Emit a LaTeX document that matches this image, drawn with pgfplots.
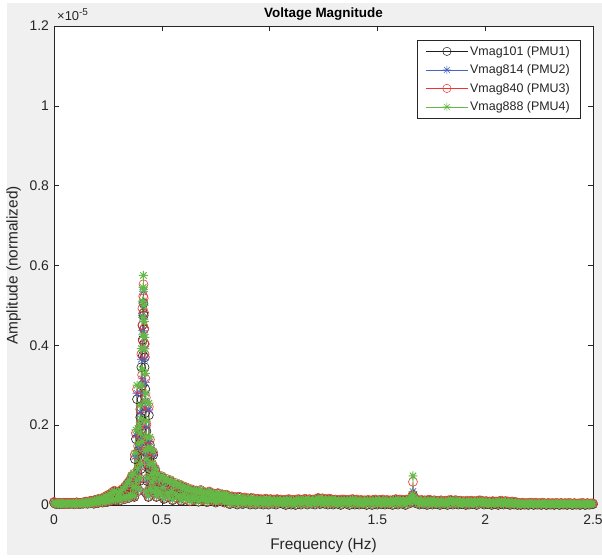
\documentclass[border=0pt]{standalone}
\usepackage{fontspec}
\setmainfont{Liberation Sans}
\usepackage{pgfplots}
\pgfplotsset{compat=1.18}
\usepackage{pgfplotstable}

\definecolor{axgray}{RGB}{38,38,38}
\definecolor{figbg}{RGB}{240,240,240}
\definecolor{s1}{RGB}{30,30,30}
\definecolor{s2}{RGB}{70,100,200}
\definecolor{s3}{RGB}{240,50,50}
\definecolor{s4}{RGB}{100,185,70}

% eight-ray asterisk (plus and cross combined)
\pgfdeclareplotmark{mstar}{%
  \pgfpathmoveto{\pgfqpoint{-\pgfplotmarksize}{0pt}}%
  \pgfpathlineto{\pgfqpoint{\pgfplotmarksize}{0pt}}%
  \pgfpathmoveto{\pgfqpoint{0pt}{-\pgfplotmarksize}}%
  \pgfpathlineto{\pgfqpoint{0pt}{\pgfplotmarksize}}%
  \pgfpathmoveto{\pgfqpoint{-0.7071\pgfplotmarksize}{-0.7071\pgfplotmarksize}}%
  \pgfpathlineto{\pgfqpoint{0.7071\pgfplotmarksize}{0.7071\pgfplotmarksize}}%
  \pgfpathmoveto{\pgfqpoint{-0.7071\pgfplotmarksize}{0.7071\pgfplotmarksize}}%
  \pgfpathlineto{\pgfqpoint{0.7071\pgfplotmarksize}{-0.7071\pgfplotmarksize}}%
  \pgfusepathqstroke}

% amplitude spectra, in units of 1e-8: f (Hz), PMU1, PMU2, PMU3, PMU4
\pgfplotstableread{
f a b c d
0.000 6 7 8 6
0.005 3 3 4 3
0.010 4 5 5 5
0.015 2 2 3 2
0.020 4 4 5 4
0.025 5 4 6 5
0.030 2 2 3 2
0.035 4 4 4 4
0.040 3 3 4 3
0.045 5 5 6 5
0.050 2 2 2 2
0.055 4 4 5 4
0.060 5 5 6 5
0.065 3 3 3 3
0.070 2 2 3 2
0.075 5 5 6 5
0.080 4 4 4 4
0.085 3 3 4 3
0.090 5 5 6 5
0.095 2 2 2 2
0.100 4 4 5 4
0.105 6 6 7 6
0.110 3 3 3 3
0.115 5 5 6 5
0.120 2 2 3 2
0.125 4 4 5 4
0.130 6 5 6 6
0.135 3 3 4 3
0.140 7 6 7 7
0.145 4 4 4 4
0.150 8 8 9 8
0.155 3 3 4 3
0.160 7 7 8 8
0.165 4 4 5 4
0.170 10 10 11 10
0.175 5 5 6 5
0.180 9 9 10 10
0.185 3 3 4 4
0.190 12 12 13 12
0.195 6 6 7 6
0.200 13 13 14 13
0.205 5 5 6 6
0.210 15 15 16 16
0.215 8 8 9 8
0.220 14 14 16 15
0.225 6 6 7 7
0.230 18 18 19 18
0.235 9 9 10 10
0.240 20 20 22 21
0.245 7 7 8 8
0.250 23 23 25 24
0.255 11 11 12 12
0.260 26 26 28 27
0.265 10 10 11 11
0.270 30 30 32 31
0.275 14 14 15 15
0.280 34 34 36 35
0.285 12 12 13 13
0.290 31 31 33 32
0.295 16 16 17 17
0.300 30 30 32 31
0.305 11 11 12 12
0.310 35 35 37 36
0.315 18 18 19 19
0.320 38 39 41 40
0.325 14 14 15 15
0.330 44 45 47 46
0.335 20 20 22 21
0.340 50 52 54 55
0.345 17 17 18 18
0.350 57 59 61 62
0.355 24 25 26 26
0.360 66 69 72 74
0.365 22 23 24 25
0.3675 40 42 44 46
0.3700 70 74 78 80
0.3725 20 21 22 23
0.3750 115 121 126 130
0.3775 40 42 44 46
0.3800 165 175 180 188
0.3825 55 58 60 62
0.3850 265 280 290 300
0.3875 80 85 88 91
0.3900 135 143 148 153
0.3925 35 37 38 40
0.3950 175 185 192 199
0.3975 60 63 66 68
0.40000 220 232 240 250
0.40125 158 167 173 180
0.40250 90 95 98 102
0.40375 189 200 206 215
0.40500 345 365 378 392
0.40625 264 279 288 300
0.40750 140 148 153 159
0.40875 299 316 326 340
0.41000 450 475 493 511
0.41125 414 437 451 470
0.41250 375 396 411 426
0.41375 480 507 523 545
0.41500 505 535 553 575
0.41625 475 502 518 540
0.41750 440 465 482 500
0.41875 405 428 442 460
0.42000 345 365 378 392
0.42125 370 391 403 420
0.42250 230 243 252 261
0.42375 290 307 317 330
0.42500 120 127 131 136
0.42625 246 260 269 280
0.42750 30 32 33 34
0.42875 185 195 202 210
0.43000 150 158 164 170
0.43125 101 107 110 115
0.43250 60 63 66 68
0.4350 125 132 137 142
0.4375 20 21 22 23
0.4400 225 238 246 255
0.4425 90 95 98 102
0.4450 150 158 164 170
0.4475 35 37 38 40
0.4500 125 132 137 142
0.4525 70 72 75 77
0.4550 50 53 55 57
0.4575 95 98 101 104
0.4600 125 128 132 135
0.4625 60 62 64 66
0.4650 30 32 33 34
0.4675 75 77 79 81
0.4700 85 88 90 92
0.4725 40 41 42 43
0.4750 20 21 22 23
0.480 70 72 75 76
0.485 32 33 34 35
0.490 58 60 62 63
0.495 25 26 27 28
0.500 68 70 72 73
0.505 40 41 43 44
0.510 15 16 17 17
0.515 55 57 59 60
0.520 62 64 66 67
0.525 28 29 30 31
0.530 20 21 22 22
0.535 52 54 56 57
0.540 58 60 62 63
0.545 30 31 32 33
0.550 12 13 14 14
0.555 45 47 48 49
0.560 52 54 56 57
0.565 26 27 28 28
0.570 18 19 19 20
0.575 44 45 47 48
0.580 48 50 52 53
0.585 22 23 24 24
0.590 10 11 12 12
0.595 38 39 41 41
0.600 44 45 47 48
0.605 25 26 27 27
0.610 14 15 15 16
0.615 36 37 39 39
0.620 40 41 43 43
0.625 20 21 22 22
0.630 9 10 10 10
0.635 33 34 35 36
0.640 36 37 39 39
0.645 18 19 20 20
0.650 13 13 14 14
0.655 30 31 32 33
0.660 34 35 36 37
0.665 16 17 17 18
0.670 8 9 9 9
0.675 29 30 31 31
0.680 35 36 38 38
0.685 17 18 18 19
0.690 12 12 13 13
0.695 27 28 29 29
0.700 30 31 32 33
0.705 14 15 15 16
0.710 7 8 8 8
0.715 26 27 28 28
0.720 32 33 34 34
0.725 15 16 16 17
0.730 11 11 12 12
0.735 24 25 26 26
0.740 27 28 29 29
0.745 12 13 13 13
0.750 6 7 7 7
0.755 23 24 25 25
0.760 28 29 30 30
0.765 13 13 14 14
0.770 10 10 11 11
0.775 22 23 23 24
0.780 25 26 27 27
0.785 11 12 12 12
0.790 6 6 7 7
0.795 21 22 22 23
0.800 24 25 26 26
0.805 21 22 23 22
0.810 9 10 11 10
0.815 2 3 4 3
0.820 17 18 19 18
0.825 20 21 22 21
0.830 8 9 10 9
0.835 5 6 7 6
0.840 18 19 20 19
0.845 12 13 14 13
0.850 1 2 3 2
0.855 19 20 21 20
0.860 10 11 12 11
0.865 18 19 20 19
0.870 8 9 10 9
0.875 2 3 4 3
0.880 14 15 16 15
0.885 17 18 19 18
0.890 7 8 9 8
0.895 4 5 6 5
0.900 15 16 17 16
0.905 10 11 12 11
0.910 1 2 3 2
0.915 16 17 18 17
0.920 9 10 11 10
0.925 15 16 17 16
0.930 6 7 8 7
0.935 1 2 3 2
0.940 12 13 14 13
0.945 14 15 16 15
0.950 5 6 7 6
0.955 3 4 5 4
0.960 13 14 15 14
0.965 9 10 11 10
0.970 1 2 3 2
0.975 13 14 15 14
0.980 7 8 9 8
0.985 14 15 16 15
0.990 6 7 8 7
0.995 1 2 3 2
1.000 11 12 13 12
1.005 13 14 15 14
1.010 5 6 7 6
1.015 3 4 5 4
1.020 12 13 14 13
1.025 8 9 10 9
1.030 1 2 3 2
1.035 13 14 15 14
1.040 7 8 9 8
1.045 10 11 12 11
1.050 12 13 14 13
1.055 5 6 7 6
1.060 3 4 5 4
1.065 11 12 13 12
1.070 7 8 9 8
1.075 0 1 2 1
1.080 12 13 14 13
1.085 6 7 8 7
1.090 13 14 15 14
1.095 5 6 7 6
1.100 1 2 3 2
1.105 3 4 5 4
1.110 11 12 13 12
1.115 7 8 9 8
1.120 0 1 2 1
1.125 12 13 14 13
1.130 6 7 8 7
1.135 13 14 15 14
1.140 5 6 7 6
1.145 1 2 3 2
1.150 10 11 12 11
1.155 12 13 14 13
1.160 5 6 7 6
1.165 14 15 16 15
1.170 6 7 8 7
1.175 1 2 3 2
1.180 11 12 13 12
1.185 13 14 15 14
1.190 5 6 7 6
1.195 3 4 5 4
1.200 12 13 14 13
1.205 8 9 10 9
1.210 1 2 3 2
1.215 13 14 15 14
1.220 7 8 9 8
1.225 16 17 18 17
1.230 7 8 9 8
1.235 2 3 4 3
1.240 13 14 15 14
1.245 15 16 17 16
1.250 6 7 8 7
1.255 3 4 5 4
1.260 13 14 15 14
1.265 9 10 11 10
1.270 1 2 3 2
1.275 14 15 16 15
1.280 8 9 10 9
1.285 13 14 15 14
1.290 5 6 7 6
1.295 1 2 3 2
1.300 10 11 12 11
1.305 12 13 14 13
1.310 5 6 7 6
1.315 3 4 5 4
1.320 11 12 13 12
1.325 7 8 9 8
1.330 0 1 2 1
1.335 12 13 14 13
1.340 6 7 8 7
1.345 12 13 14 13
1.350 5 6 7 6
1.355 3 4 5 4
1.360 11 12 13 12
1.365 7 8 9 8
1.370 0 1 2 1
1.375 12 13 14 13
1.380 6 7 8 7
1.385 13 14 15 14
1.390 5 6 7 6
1.395 1 2 3 2
1.400 10 11 12 11
1.405 12 13 14 13
1.410 5 6 7 6
1.415 1 2 3 2
1.420 9 10 11 10
1.425 11 12 13 12
1.430 4 5 6 5
1.435 2 3 4 3
1.440 10 11 12 11
1.445 7 8 9 8
1.450 0 1 2 1
1.455 11 12 13 12
1.460 6 7 8 7
1.465 10 11 12 11
1.470 7 8 9 8
1.475 0 1 2 1
1.480 11 12 13 12
1.485 6 7 8 7
1.490 12 13 14 13
1.495 5 6 7 6
1.500 1 2 3 2
1.505 9 10 11 10
1.510 11 12 13 12
1.515 4 5 6 5
1.520 2 3 4 3
1.525 12 13 14 13
1.530 5 6 7 6
1.535 1 2 3 2
1.540 9 10 11 10
1.545 11 12 13 12
1.550 4 5 6 5
1.555 2 3 4 3
1.560 10 11 12 11
1.565 7 8 9 8
1.570 0 1 2 1
1.575 11 12 13 12
1.580 6 7 8 7
1.585 13 14 15 14
1.590 5 6 7 6
1.595 1 2 3 2
1.600 10 11 12 11
1.605 12 13 14 13
1.610 5 6 7 6
1.615 3 4 5 4
1.620 11 12 13 12
1.625 7 8 9 8
1.630 0 1 2 1
1.635 12 13 14 13
1.640 6 7 8 7
1.645 11 12 13 12
1.650 4 5 6 5
1.655 13 14 15 14
1.660 17 18 19 18
1.6625 20 22 24 26
1.6650 26 34 58 73
1.6675 18 19 20 20
1.670 13 14 15 14
1.675 5 6 7 6
1.680 11 12 13 12
1.685 12 13 14 13
1.690 5 6 7 6
1.695 1 2 3 2
1.700 9 10 11 10
1.705 11 12 13 12
1.710 4 5 6 5
1.715 2 3 4 3
1.720 10 11 12 11
1.725 7 8 9 8
1.730 0 1 2 1
1.735 11 12 13 12
1.740 6 7 8 7
1.745 11 12 13 12
1.750 4 5 6 5
1.755 1 2 3 2
1.760 9 10 11 10
1.765 10 11 12 11
1.770 4 5 6 5
1.775 2 3 4 3
1.780 9 10 11 10
1.785 6 7 8 7
1.790 0 1 2 1
1.795 10 11 12 11
1.800 5 6 7 6
1.805 4 5 6 5
1.810 2 3 4 3
1.815 9 10 11 10
1.820 6 7 8 7
1.825 0 1 2 1
1.830 10 11 12 11
1.835 5 6 7 6
1.840 11 12 13 12
1.845 4 5 6 5
1.850 1 2 3 2
1.855 9 10 11 10
1.860 10 11 12 11
1.865 10 11 12 11
1.870 4 5 6 5
1.875 1 2 3 2
1.880 8 9 10 9
1.885 9 10 11 10
1.890 3 4 5 4
1.895 2 3 4 3
1.900 8 9 10 9
1.905 6 7 8 7
1.910 0 1 2 1
1.915 9 10 11 10
1.920 5 6 7 6
1.925 1 2 3 2
1.930 8 9 10 9
1.935 9 10 11 10
1.940 3 4 5 4
1.945 2 3 4 3
1.950 8 9 10 9
1.955 6 7 8 7
1.960 0 1 2 1
1.965 9 10 11 10
1.970 5 6 7 6
1.975 10 11 12 11
1.980 4 5 6 5
1.985 9 10 11 10
1.990 4 5 6 5
1.995 1 2 3 2
2.000 7 8 9 8
2.005 8 9 10 9
2.010 3 4 5 4
2.015 2 3 4 3
2.020 7 8 9 8
2.025 5 6 7 6
2.030 0 1 2 1
2.035 8 9 10 9
2.040 4 5 6 5
2.045 2 3 4 3
2.050 7 8 9 8
2.055 5 6 7 6
2.060 0 1 2 1
2.065 8 9 10 9
2.070 4 5 6 5
2.075 9 10 11 10
2.080 4 5 6 5
2.085 1 2 3 2
2.090 7 8 9 8
2.095 8 9 10 9
2.100 3 4 5 4
2.105 7 8 9 8
2.110 3 4 5 4
2.115 0 1 2 1
2.120 5 6 7 6
2.125 7 8 9 8
2.130 2 3 4 3
2.135 1 2 3 2
2.140 6 7 8 7
2.145 4 5 6 5
2.150 0 1 2 1
2.155 4 5 6 5
2.160 2 3 4 3
2.165 0 1 2 1
2.170 3 4 5 4
2.175 4 5 6 5
2.180 1 2 3 2
2.185 1 2 3 2
2.190 3 4 5 4
2.195 2 3 4 3
2.200 0 1 2 1
2.205 4 5 6 5
2.210 2 3 4 3
2.215 4 5 6 5
2.220 2 3 4 3
2.225 0 1 2 1
2.230 3 4 5 4
2.235 4 5 6 5
2.240 1 2 3 2
2.245 1 2 3 2
2.250 3 4 5 4
2.255 2 3 4 3
2.260 0 1 2 1
2.265 4 5 6 5
2.270 2 3 4 3
2.275 3 4 5 4
2.280 1 2 3 2
2.285 0 1 2 1
2.290 3 4 5 4
2.295 3 4 5 4
2.300 1 2 3 2
2.305 1 2 3 2
2.310 3 4 5 4
2.315 2 3 4 3
2.320 0 1 2 1
2.325 3 4 5 4
2.330 2 3 4 3
2.335 3 4 5 4
2.340 1 2 3 2
2.345 0 1 2 1
2.350 3 4 5 4
2.355 3 4 5 4
2.360 1 2 3 2
2.365 1 2 3 2
2.370 3 4 5 4
2.375 2 3 4 3
2.380 0 1 2 1
2.385 3 4 5 4
2.390 2 3 4 3
2.395 3 4 5 4
2.400 1 2 3 2
2.405 0 1 2 1
2.410 2 3 4 3
2.415 3 4 5 4
2.420 1 2 3 2
2.425 1 2 3 2
2.430 2 3 4 3
2.435 2 3 4 3
2.440 0 1 2 1
2.445 3 4 5 4
2.450 2 3 4 3
2.455 3 4 5 4
2.460 1 2 3 2
2.465 0 1 2 1
2.470 2 3 4 3
2.475 3 4 5 4
2.480 1 2 3 2
2.485 1 2 3 2
2.490 2 3 4 3
2.495 2 3 4 3
2.500 2 3 4 3
}\spec

\begin{document}
\begin{tikzpicture}[x=1bp,y=1bp]
\useasboundingbox (0,0) rectangle (602,559);
\fill[figbg] (7,4) rectangle (602,556);
\begin{axis}[
  at={(54bp,54bp)}, anchor=south west,
  scale only axis, width=539bp, height=479bp,
  xmin=0, xmax=2.5, ymin=0, ymax=1200,
  xtick={0,0.5,1,1.5,2,2.5},
  ytick={0,200,400,600,800,1000,1200},
  yticklabels={0,0.2,0.4,0.6,0.8,1,1.2},
  axis background/.style={fill=white},
  axis line style={axgray, line width=0.5pt},
  tick style={axgray, line width=0.5pt},
  major tick length=5bp,
  tick align=inside,
  xtick pos=both, ytick pos=both,
  clip=false,
  /pgf/number format/assume math mode=true,
  ticklabel style={font=\fontsize{14}{16}\selectfont, text=axgray},
  xticklabel style={yshift=-6bp},
  yticklabel style={xshift=-1.5bp},
  xlabel={Frequency (Hz)},
  ylabel={Amplitude (normalized)},
  label style={font=\fontsize{15.5}{18}\selectfont, text=axgray},
  xlabel style={yshift=-7bp},
  ylabel style={yshift=2bp},
  title={Voltage Magnitude},
  title style={font=\fontsize{13.5}{15}\selectfont\bfseries, text=black, yshift=-4bp},
  legend style={at={(rel axis cs:0.976,0.971)}, anchor=north east,
    draw=axgray, line width=0.5pt, fill=white,
    font=\fontsize{12.5}{14}\selectfont, text=axgray,
    inner xsep=8bp, inner ysep=4bp, row sep=4bp},
  legend cell align=left,
  legend image code/.code={%
    \draw[mark repeat=2, mark phase=2, #1]
      plot coordinates {(0bp,0bp) (21bp,0bp) (42bp,0bp)};},
  legend image post style={line width=0.5pt, mark size=4.2pt, mark options={solid, line width=0.5pt}},
  every axis plot/.append style={line width=0.5pt, mark size=4.5pt},
]
\addplot[s1, mark=o, mark options={solid, line width=0.6pt}] table[x=f, y=a] {\spec};
\addlegendentry{Vmag101 (PMU1)}
\addplot[s2, mark=mstar, mark options={solid, line width=0.6pt}] table[x=f, y=b] {\spec};
\addlegendentry{Vmag814 (PMU2)}
\addplot[s3, mark=o, mark options={solid, line width=0.6pt}] table[x=f, y=c] {\spec};
\addlegendentry{Vmag840 (PMU3)}
\addplot[s4, mark=mstar, mark options={solid, line width=1pt}] table[x=f, y=d] {\spec};
\addlegendentry{Vmag888 (PMU4)}
\node[anchor=south west, inner sep=0pt, text=axgray]
  at (rel axis cs:0,1) [xshift=3bp, yshift=5bp]
  {\fontsize{13}{15}\selectfont ×10\raisebox{5bp}{\fontsize{10}{12}\selectfont -5}};
\end{axis}
\end{tikzpicture}
\end{document}
